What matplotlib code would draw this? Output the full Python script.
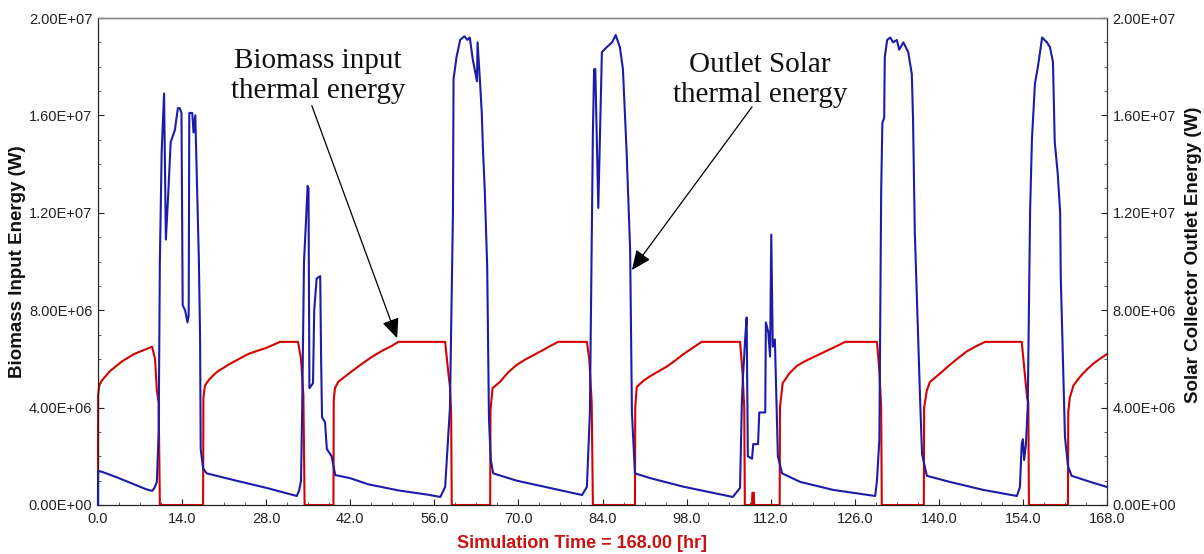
import matplotlib
matplotlib.use("Agg")
import matplotlib.pyplot as plt
from matplotlib.ticker import MultipleLocator, FuncFormatter
import numpy as np

# ---------------- data (values in MW, time in hours) ----------------
bio_t = [0.0, 0.02, 0.2, 0.6, 1.3, 2.0, 3.0, 4.0, 5.0, 6.0, 7.0, 8.0, 9.0, 9.5, 9.8, 10.1, 10.3,
         17.5, 17.55, 17.8, 18.5, 19.3, 20.0, 21.0, 22.0, 23.5, 25.0, 26.5, 28.0, 29.2, 30.3,
         33.3, 33.8, 34.2, 34.4,
         39.2, 39.25, 39.45, 40.0, 41.1, 42.2, 43.3, 44.7, 46.1, 47.5, 48.9, 50.0, 57.8, 58.3,
         58.6, 58.8, 58.9,
         65.3, 65.35, 65.7, 66.9, 68.3, 69.7, 71.1, 72.5, 74.5, 76.6, 81.4, 81.8, 82.2, 82.4,
         89.4, 89.45, 89.7, 90.8, 92.0, 93.4, 94.8, 96.2, 97.5, 99.0, 100.5, 106.9, 107.3,
         107.6, 107.7,
         108.9, 108.95, 109.2, 109.25,
         113.5, 113.55, 114.0, 115.1, 116.3, 117.5, 118.5, 120.2, 121.9, 123.2, 124.4, 129.7,
         130.1, 130.4, 130.5,
         137.5, 137.55, 138.0, 138.5, 140.2, 141.8, 143.2, 144.6, 146.2, 147.7, 153.8, 154.7,
         154.9, 155.0,
         161.5, 161.55, 161.8, 162.4, 163.2, 164.0, 164.8, 165.7, 166.8, 168.0]
bio_mw = [0.0, 4.5, 4.9, 5.1, 5.3, 5.5, 5.7, 5.9, 6.05, 6.2, 6.3, 6.4, 6.5, 6.0, 4.7, 4.2, 0.0,
          0.0, 4.4, 4.9, 5.15, 5.35, 5.5, 5.65, 5.8, 6.0, 6.2, 6.33, 6.45, 6.58, 6.7,
          6.7, 6.0, 4.5, 0.0,
          0.0, 4.3, 4.8, 5.06, 5.27, 5.48, 5.68, 5.93, 6.16, 6.36, 6.53, 6.7, 6.7, 5.5,
          4.86, 3.8, 0.0,
          0.0, 3.9, 4.8, 5.05, 5.45, 5.75, 5.97, 6.15, 6.42, 6.7, 6.7, 6.0, 4.2, 0.0,
          0.0, 4.0, 4.85, 5.1, 5.3, 5.5, 5.7, 5.95, 6.2, 6.45, 6.7, 6.7, 5.5,
          4.0, 0.0,
          0.0, 0.5, 0.5, 0.0,
          0.0, 4.0, 5.0, 5.4, 5.7, 5.88, 6.0, 6.2, 6.4, 6.55, 6.7, 6.7,
          5.5, 4.0, 0.0,
          0.0, 4.0, 4.7, 5.05, 5.4, 5.75, 6.03, 6.3, 6.52, 6.7, 6.7, 4.4,
          4.2, 0.0,
          0.0, 3.8, 4.4, 4.9, 5.17, 5.4, 5.6, 5.8, 6.0, 6.2]

sol_t = [0.0, 0.02, 0.7, 3.0, 6.0, 8.0, 9.0, 9.4, 9.8, 10.1, 10.3, 10.6, 10.8, 11.0,
         11.15, 11.3, 11.7, 12.1, 12.8, 13.3, 13.6, 13.9, 14.0, 14.1, 14.5, 14.9, 15.1,
         15.2, 15.7, 15.9, 16.2, 16.4, 16.8, 17.0, 17.1, 17.5, 18.1, 22.5, 28.1, 33.1,
         33.5, 33.8, 34.0, 34.3, 34.6, 34.9, 35.05, 35.2, 35.8, 36.0, 36.4, 37.0, 37.15,
         37.3, 37.8, 38.1, 38.9, 39.5, 42.0, 45.0, 50.0, 55.0, 57.0, 57.8, 58.6, 59.1,
         59.2, 59.7, 60.3, 61.0, 61.5, 61.9, 62.4, 63.1, 63.2, 63.6, 63.9, 64.1, 64.4,
         64.8, 65.1, 65.4, 65.8, 69.7, 75.2, 80.6, 81.4, 81.9, 82.4, 82.6, 82.8, 83.3,
         83.9, 84.7, 85.6, 86.2, 86.9, 87.4, 88.0, 88.6, 88.9, 89.4, 92.0, 97.5, 105.7,
         106.9, 107.2, 107.4, 107.8, 108.0, 108.2, 108.9, 109.1, 109.9, 110.1, 111.1,
         111.2, 111.6, 111.9, 112.1, 112.35, 112.7, 113.0, 113.2, 113.9, 116.9, 122.4,
         129.4, 129.7, 130.1, 130.4, 130.6, 130.9, 131.0, 131.4, 131.9, 132.4, 133.0,
         133.4, 134.1, 134.9, 135.5, 135.7, 136.0, 136.9, 137.2, 138.0, 141.8, 147.4,
         153.0, 153.5, 153.8, 154.0, 154.2, 154.5, 154.8, 155.2, 155.5, 156.0, 156.5,
         157.2, 158.0, 158.5, 159.0, 159.3, 159.8, 160.2, 160.3, 161.0, 161.5, 162.1,
         165.2, 168.0]
sol_mw = [0.0, 1.4, 1.36, 1.15, 0.85, 0.65, 0.58, 0.7, 0.95, 3.0, 10.0, 14.5, 15.7, 16.9,
          14.0, 10.9, 12.8, 14.9, 15.4, 16.3, 16.3, 16.1, 12.0, 8.2, 8.0, 7.5, 7.8,
          16.1, 16.1, 15.3, 16.0, 14.0, 10.0, 6.8, 2.3, 1.5, 1.3, 1.03, 0.7, 0.37,
          0.6, 1.0, 4.0, 10.0, 11.5, 13.1, 13.0, 4.8, 5.0, 8.0, 9.3, 9.4, 6.0,
          3.6, 3.4, 2.3, 2.0, 1.23, 1.1, 0.85, 0.6, 0.42, 0.33, 0.74, 4.0, 12.0,
          17.5, 18.4, 19.1, 19.25, 19.1, 19.2, 18.3, 17.4, 19.0, 17.4, 16.1, 14.6, 12.9,
          9.8, 3.5, 1.85, 1.3, 1.0, 0.7, 0.41, 0.74, 3.8, 15.3, 17.9, 17.9, 12.2,
          18.6, 18.8, 19.0, 19.3, 18.8, 17.9, 14.6, 10.5, 3.8, 1.3, 1.1, 0.75, 0.33,
          0.7, 4.2, 5.3, 7.0, 7.7, 2.0, 1.9, 2.5, 2.5, 3.8, 3.8,
          7.5, 7.1, 6.1, 11.1, 6.5, 6.8, 4.0, 2.0, 1.3, 0.95, 0.62,
          0.37, 1.0, 2.7, 12.9, 15.7, 15.9, 18.4, 19.1, 19.2, 19.0, 19.1,
          18.7, 19.0, 18.6, 17.7, 15.9, 11.2, 4.2, 2.1, 1.2, 0.95, 0.62,
          0.37, 0.74, 2.5, 2.7, 1.85, 2.5, 4.0, 12.1, 15.0, 17.3, 18.0,
          19.2, 19.0, 18.8, 18.2, 14.9, 13.6, 12.0, 9.4, 2.8, 1.6, 1.2,
          0.95, 0.74]

x_ticks = [0, 14, 28, 42, 56, 70, 84, 98, 112, 126, 140, 154, 168]
y_ticks = [0, 4e6, 8e6, 12e6, 16e6, 20e6]

annot_bio = "Biomass input\nthermal energy"
annot_sol = "Outlet Solar\nthermal energy"
x_label = "Simulation Time = 168.00 [hr]"
yl_left = "Biomass Input Energy (W)"
yl_right = "Solar Collector Outlet Energy (W)"

# ---------------- figure ----------------
W, H = 1204, 554
fig = plt.figure(figsize=(W / 100, H / 100), dpi=100)
L, R, T, B = 98, 1107, 18, 505
ax = fig.add_axes([L / W, 1 - B / H, (R - L) / W, (B - T) / H])
ax2 = ax.twinx()

RED = "#d50000"
BLUE = "#1c1ca8"

ax.plot(bio_t, np.array(bio_mw) * 1e6, color=RED, lw=1.5, clip_on=False, zorder=3)
ax2.plot(sol_t, np.array(sol_mw) * 1e6, color=BLUE, lw=1.5, clip_on=False, zorder=3)

fmt = FuncFormatter(lambda v, p: f"{v:.2E}")
for a in (ax, ax2):
    a.set_xlim(0, 168)
    a.set_ylim(0, 2e7)
    a.set_yticks(y_ticks)
    a.yaxis.set_major_formatter(fmt)
    a.yaxis.set_minor_locator(MultipleLocator(1e6))
    a.tick_params(axis="y", which="major", direction="in", length=4, width=0.8,
                  labelsize=10.5, colors="#222222", pad=4)
    a.tick_params(axis="y", which="minor", direction="in", length=2, width=0.6, colors="#444444")
    for lab in a.get_yticklabels():
        lab.set_fontfamily("Liberation Sans")

ax.set_xticks(x_ticks)
ax.set_xticklabels([f"{v:.1f}" for v in x_ticks], fontfamily="Liberation Sans")
ax.xaxis.set_minor_locator(MultipleLocator(3.5))
ax.tick_params(axis="x", which="major", direction="in", length=4, width=0.8,
               labelsize=10.5, colors="#222222", pad=5)
ax.tick_params(axis="x", which="minor", direction="in", length=2, width=0.6, colors="#444444")

for a in (ax, ax2):
    a.spines["top"].set_color("#8a8a8a")
    a.spines["top"].set_linewidth(1.0)
    a.spines["left"].set_color("#222222")
    a.spines["bottom"].set_color("#222222")
    a.spines["right"].set_color("#333333")
    a.patch.set_visible(False)

fig.text(18 / W, 1 - 262 / H, yl_left, rotation=90, ha="center", va="center",
         fontsize=13.5, fontweight="bold", family="Liberation Sans", color="#111111")
fig.text(1194 / W, 1 - 255 / H, yl_right, rotation=90, ha="center", va="center",
         fontsize=13.5, fontweight="bold", family="Liberation Sans", color="#111111")
fig.text(582 / W, 1 - 543 / H, x_label, ha="center", va="center",
         fontsize=13, fontweight="bold", family="Liberation Sans", color="#cc1111")

# annotations
ax2.text(36.6, 17.6e6, annot_bio, ha="center", va="center", fontsize=21,
         family="Liberation Serif", linespacing=1.2, color="#111111")
ax2.annotate("", xy=(49.8, 6.85e6), xytext=(35.6, 16.4e6),
             arrowprops=dict(arrowstyle="-|>,head_length=0.8,head_width=0.35",
                             mutation_scale=15, color="black", lw=0.9,
                             shrinkA=0, shrinkB=0))
ax2.text(110.2, 17.45e6, annot_sol, ha="center", va="center", fontsize=21,
         family="Liberation Serif", linespacing=1.2, color="#111111")
ax2.annotate("", xy=(88.9, 9.65e6), xytext=(108.9, 16.35e6),
             arrowprops=dict(arrowstyle="-|>,head_length=0.8,head_width=0.35",
                             mutation_scale=15, color="black", lw=0.9,
                             shrinkA=0, shrinkB=0))

fig.savefig("out.png", dpi=100)
